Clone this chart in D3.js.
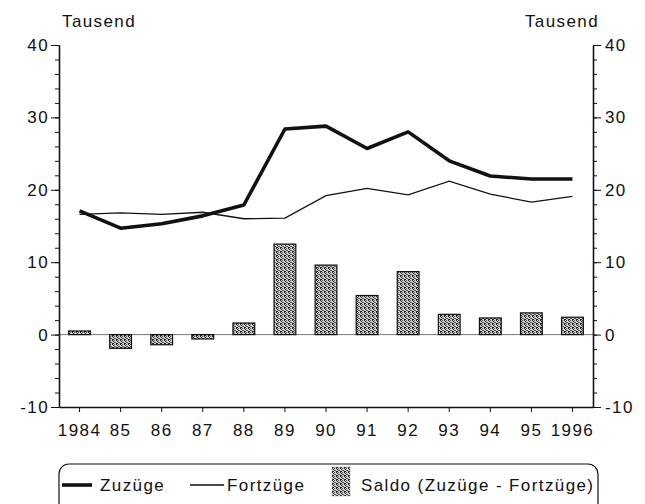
<!DOCTYPE html>
<html>
<head>
<meta charset="utf-8">
<script src="https://cdn.jsdelivr.net/npm/d3@7"></script>
<style>
    body { margin: 0; background: #fff; }
    text { font-family: "Liberation Sans", Arial, sans-serif; fill: #111; letter-spacing: 1.4px; }
</style>
</head>
<body>
<svg id="chart" width="645" height="504"></svg>
<script>
// Werte in Tausend
const years = ["1984", "85", "86", "87", "88", "89", "90", "91", "92", "93", "94", "95", "1996"];
const zuzuege = [17.1, 14.7, 15.3, 16.4, 17.9, 28.4, 28.8, 25.7, 28.0, 24.0, 21.9, 21.5, 21.5];
const fortzuege = [16.6, 16.8, 16.6, 16.9, 16.0, 16.1, 19.2, 20.2, 19.3, 21.2, 19.4, 18.3, 19.1];
const saldo = [0.5, -1.9, -1.4, -0.6, 1.6, 12.5, 9.6, 5.4, 8.7, 2.8, 2.3, 3.0, 2.4];
const yTicks = [-10, 0, 10, 20, 30, 40];
const legendLabels = ["Zuzüge", "Fortzüge", "Saldo (Zuzüge - Fortzüge)"];

let svg = d3.select("#chart");
let margin = { left: 59, right: 52, top: 45, bottom: 97 };
let width = 645, height = 504;
let fontSize = "17px";

let x = d3.scaleBand()
    .domain(years)
    .range([margin.left, width - margin.right])
    .paddingInner(0.47)
    .paddingOuter(0.235);

let y = d3.scaleLinear()
    .domain([-10, 40])
    .range([height - margin.bottom, margin.top]);

// stipple pattern for the bars
let defs = svg.append("defs");
let pat = defs.append("pattern")
    .attr("id", "stipple")
    .attr("patternUnits", "userSpaceOnUse")
    .attr("width", 4).attr("height", 4);
pat.append("rect").attr("width", 4).attr("height", 4).attr("fill", "#cfcfcf");
[[0, 0], [2, 0], [1, 1], [3, 2], [0, 3], [2, 2], [1, 3]].forEach(function(p, k) {
    pat.append("rect")
        .attr("x", p[0]).attr("y", p[1])
        .attr("width", 1).attr("height", 1)
        .attr("fill", k % 2 ? "#555" : "#222");
});

// zero line
svg.append("line")
    .attr("x1", margin.left).attr("x2", width - margin.right)
    .attr("y1", y(0)).attr("y2", y(0))
    .attr("stroke", "#777").attr("stroke-width", 1);

// bars
svg.append("g").selectAll("rect")
    .data(saldo)
    .enter()
    .append("rect")
    .attr("x", (d, i) => x(years[i]))
    .attr("y", d => y(Math.max(0, d)))
    .attr("width", x.bandwidth())
    .attr("height", d => Math.abs(y(d) - y(0)))
    .attr("fill", "url(#stipple)")
    .attr("stroke", "#111")
    .attr("stroke-width", 1.2);

// lines
let line = d3.line()
    .x((d, i) => x(years[i]) + x.bandwidth() / 2)
    .y(d => y(d));

svg.append("path")
    .datum(fortzuege)
    .attr("d", line)
    .attr("fill", "none")
    .attr("stroke", "#111")
    .attr("stroke-width", 1.3);

svg.append("path")
    .datum(zuzuege)
    .attr("d", line)
    .attr("fill", "none")
    .attr("stroke", "#111")
    .attr("stroke-width", 3.6)
    .attr("stroke-linejoin", "round");

// y axes
let minor = d3.range(-10, 41, 2);
let fmt = d => String(d);
function styleAxis(g) {
    g.select(".domain").attr("stroke", "#111").attr("stroke-width", 1.3);
    g.selectAll(".tick line").attr("stroke", "#111");
    g.selectAll("text").style("font-size", fontSize).attr("fill", "#111");
}

svg.append("g")
    .attr("transform", "translate(" + margin.left + ",0)")
    .call(d3.axisLeft(y).tickValues(minor).tickSize(4).tickFormat("").tickSizeOuter(0))
    .call(styleAxis);
svg.append("g")
    .attr("transform", "translate(" + margin.left + ",0)")
    .call(d3.axisLeft(y).tickValues(yTicks).tickSize(8).tickPadding(2).tickFormat(fmt).tickSizeOuter(0))
    .call(styleAxis);

let rx = width - margin.right;
svg.append("g")
    .attr("transform", "translate(" + rx + ",0)")
    .call(d3.axisRight(y).tickValues(minor).tickSize(4).tickFormat("").tickSizeOuter(0))
    .call(styleAxis);
svg.append("g")
    .attr("transform", "translate(" + rx + ",0)")
    .call(d3.axisRight(y).tickValues(yTicks).tickSize(8).tickPadding(4).tickFormat(fmt).tickSizeOuter(0))
    .call(styleAxis);

// x axis
svg.append("g")
    .attr("transform", "translate(0," + y(-10) + ")")
    .call(d3.axisBottom(x).tickSize(5).tickPadding(12).tickSizeOuter(0))
    .call(styleAxis);

// unit labels
svg.append("text").attr("x", 62).attr("y", 27).style("font-size", fontSize).text("Tausend");
svg.append("text").attr("x", 599).attr("y", 27).attr("text-anchor", "end").style("font-size", fontSize).text("Tausend");

// legend
let lg = svg.append("g");
lg.append("rect")
    .attr("x", 59).attr("y", 464)
    .attr("width", 539).attr("height", 52)
    .attr("rx", 10).attr("ry", 10)
    .attr("fill", "none").attr("stroke", "#111").attr("stroke-width", 1.2);
let ly = 485;
lg.append("line").attr("x1", 62).attr("x2", 92).attr("y1", ly).attr("y2", ly)
    .attr("stroke", "#111").attr("stroke-width", 3.6);
lg.append("text").attr("x", 100).attr("y", ly + 6).style("font-size", fontSize).text(legendLabels[0]);
lg.append("line").attr("x1", 190).attr("x2", 224).attr("y1", ly).attr("y2", ly)
    .attr("stroke", "#111").attr("stroke-width", 1.3);
lg.append("text").attr("x", 227).attr("y", ly + 6).style("font-size", fontSize).text(legendLabels[1]);
lg.append("rect").attr("x", 332).attr("y", 467).attr("width", 18).attr("height", 29)
    .attr("fill", "url(#stipple)").attr("stroke", "#999").attr("stroke-width", 0.5);
lg.append("text").attr("x", 361).attr("y", ly + 6).style("font-size", fontSize).text(legendLabels[2]);
</script>
</body>
</html>
